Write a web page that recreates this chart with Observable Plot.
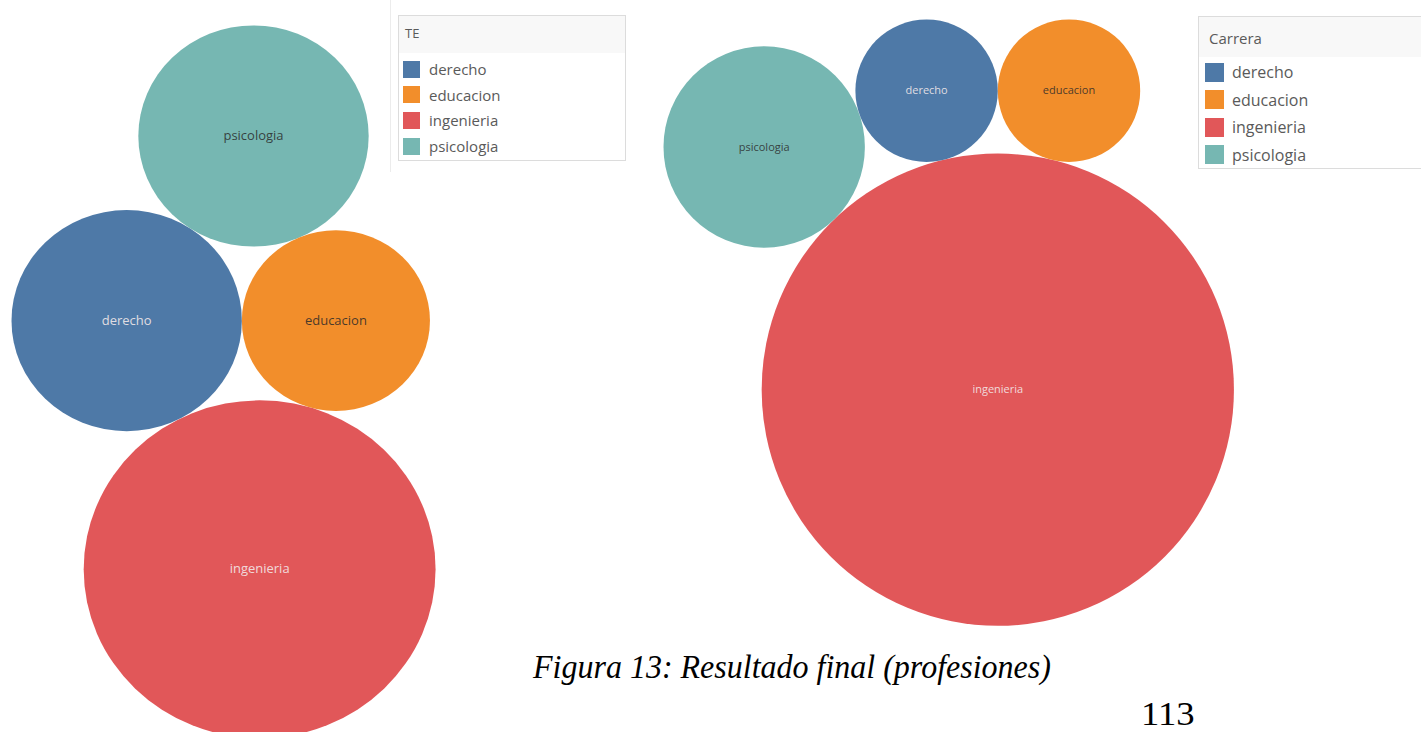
<!DOCTYPE html>
<html>
<head>
<meta charset="utf-8">
<script src="https://cdn.jsdelivr.net/npm/d3@7"></script>
<script src="https://cdn.jsdelivr.net/npm/@observablehq/plot@0.6"></script>
<style>
  html, body { margin: 0; padding: 0; background: #fff; }
  #page { position: relative; width: 1421px; height: 732px; overflow: hidden; background: #fff; }
  .chart { position: absolute; top: 0; }
  .legend { position: absolute; border: 1px solid #dcdcdc; background: #fff; font-family: "Open Sans", sans-serif; color: #5a5a5a; box-sizing: border-box; }
  .legend .title { position: absolute; left: 0; right: 0; top: 0; background: #f8f8f8; }
  .legend .title span { position: absolute; transform: translateY(-50%); }
  .legend .sw { position: absolute; }
  .legend .lab { position: absolute; transform: translateY(-50%); white-space: nowrap; }
  .caption { position: absolute; font-family: "Liberation Serif", "Times New Roman", serif; color: #000; white-space: nowrap; transform-origin: 0 100%; }
</style>
</head>
<body>
<div id="page"></div>
<script>
// ---- data ----
const categories = ["derecho", "educacion", "ingenieria", "psicologia"];
const colors = ["#4e79a7", "#f28e2b", "#e15759", "#76b7b2"];
const countsTE = [3, 2, 7, 3];        // left chart (legend "TE")
const countsCarrera = [1, 1, 11, 2];  // right chart (legend "Carrera")
const legendTitles = ["TE", "Carrera"];
const captionText = "Figura 13: Resultado final (profesiones)";
const pageNumber = "113";

// ---- styles (not data) ----
const darkLabels = new Set(["educacion", "psicologia"]);
const page = document.getElementById("page");

// packed-bubble layout: d3.packSiblings, then orient so derecho -> educacion runs left to right
// and ingenieria sits below derecho.
function packLayout(counts, order, k) {
  const circles = order.map(name => {
    const value = counts[categories.indexOf(name)];
    return {name, value, r: k * Math.sqrt(value)};
  });
  d3.packSiblings(circles);
  const a = circles.find(d => d.name === "derecho");
  const b = circles.find(d => d.name === "educacion");
  const ang = Math.atan2(b.y - a.y, b.x - a.x);
  const c = Math.cos(-ang), s = Math.sin(-ang);
  for (const d of circles) {
    const x = d.x * c - d.y * s, y = d.x * s + d.y * c;
    d.x = x; d.y = y;
  }
  const ing = circles.find(d => d.name === "ingenieria");
  if (ing.y < a.y) for (const d of circles) d.y = -d.y;
  return circles;
}

function bubbleChart(counts, order, k, width, height, leftPad, topPad, fontSize) {
  const data = packLayout(counts, order, k);
  const minX = d3.min(data, d => d.x - d.r);
  const minY = d3.min(data, d => d.y - d.r);
  const maxV = d3.max(counts);
  const x0 = minX - leftPad, y0 = minY - topPad;
  return Plot.plot({
    width, height,
    margin: 0,
    style: {background: "transparent", overflow: "visible"},
    x: {domain: [x0, x0 + width], range: [0, width], axis: null},
    y: {domain: [y0, y0 + height], range: [0, height], axis: null},
    r: {type: "sqrt", domain: [0, maxV], range: [0, k * Math.sqrt(maxV)]},
    color: {domain: categories, range: colors},
    marks: [
      Plot.dot(data, {x: "x", y: "y", r: "value", fill: "name", stroke: "none"}),
      Plot.text(data.filter(d => !darkLabels.has(d.name)), {
        x: "x", y: "y", text: "name", fill: "#f3e9ea", fillOpacity: 0.9,
        fontSize, fontFamily: "Open Sans, sans-serif"
      }),
      Plot.text(data.filter(d => darkLabels.has(d.name)), {
        x: "x", y: "y", text: "name", fill: "#2a2a2a", fillOpacity: 0.85,
        fontSize, fontFamily: "Open Sans, sans-serif"
      })
    ]
  });
}

// left chart (slightly squashed vertically, as in the screenshot)
const left = bubbleChart(countsTE, ["derecho", "educacion", "psicologia", "ingenieria"], 66.5, 460, 780, 11, 26, 13);
left.classList.add("chart");
left.style.left = "0px";
left.style.transform = "scaleY(0.96)";
left.style.transformOrigin = "0 0";
page.appendChild(left);

// right chart
const right = bubbleChart(countsCarrera, ["ingenieria", "derecho", "educacion", "psicologia"], 71.2, 620, 660, 23, 19, 11);
right.classList.add("chart");
right.style.left = "640px";
page.appendChild(right);

// legends
function legend(title, opts) {
  const box = document.createElement("div");
  box.className = "legend";
  Object.assign(box.style, {left: opts.left + "px", top: opts.top + "px", width: opts.width + "px", height: opts.height + "px"});
  const t = document.createElement("div");
  t.className = "title";
  t.style.height = opts.titleH + "px";
  const ts = document.createElement("span");
  ts.textContent = title;
  Object.assign(ts.style, {left: opts.textPad + "px", top: opts.titleY + "px", fontSize: opts.titleFont + "px"});
  t.appendChild(ts);
  box.appendChild(t);
  categories.forEach((c, i) => {
    const cy = opts.firstY + i * opts.step;
    const sw = document.createElement("div");
    sw.className = "sw";
    Object.assign(sw.style, {left: opts.swX + "px", top: (cy - opts.sw / 2) + "px", width: opts.sw + "px", height: opts.sw + "px", background: colors[i]});
    const lab = document.createElement("div");
    lab.className = "lab";
    lab.textContent = c;
    Object.assign(lab.style, {left: opts.labX + "px", top: cy + "px", fontSize: opts.font + "px"});
    box.appendChild(sw);
    box.appendChild(lab);
  });
  page.appendChild(box);
}

// faint panel line left of the first legend
const vline = document.createElement("div");
Object.assign(vline.style, {position: "absolute", left: "390px", top: "0px", width: "1px", height: "172px", background: "#ececec"});
page.appendChild(vline);

legend(legendTitles[0], {left: 398, top: 15, width: 228, height: 146, titleH: 37, titleY: 17, titleFont: 13,
  textPad: 6, firstY: 53, step: 25.7, swX: 4, sw: 17, labX: 30, font: 15});
legend(legendTitles[1], {left: 1198, top: 16, width: 240, height: 153, titleH: 40, titleY: 21, titleFont: 15,
  textPad: 10, firstY: 55, step: 27.6, swX: 6, sw: 19, labX: 33, font: 16});

// caption and page number
const cap = document.createElement("div");
cap.className = "caption";
cap.textContent = captionText;
Object.assign(cap.style, {left: "533px", top: "651px", fontSize: "32px", fontStyle: "italic", lineHeight: "1", transform: "scaleY(1.08)"});
page.appendChild(cap);
const pn = document.createElement("div");
pn.className = "caption";
pn.textContent = pageNumber;
Object.assign(pn.style, {left: "1141px", top: "697px", fontSize: "34px", lineHeight: "1", transform: "scaleX(1.08)", transformOrigin: "0 0"});
page.appendChild(pn);
</script>
</body>
</html>
